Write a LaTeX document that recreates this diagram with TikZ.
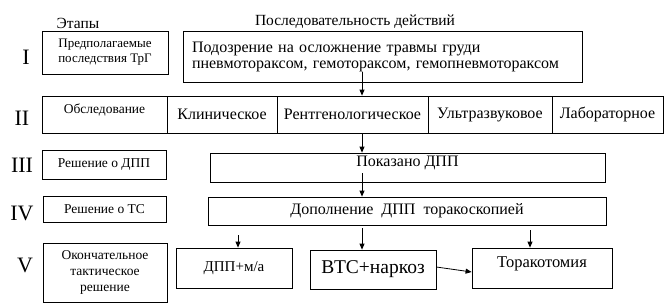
\documentclass[tikz,border=0pt]{standalone}
\usepackage{fontspec}
\setmainfont{Liberation Serif}
\newfontfamily\trfont{Liberation Serif}
\usepackage{tikz}
\usetikzlibrary{arrows.meta, positioning, calc}

\begin{document}
\begin{tikzpicture}[
  x=1pt, y=-1pt,
  box/.style={draw, line width=0.8pt, inner sep=0pt, align=center,
              minimum width=#1},
  stage/.style={box=#1, font=\trfont\fontsize{13.5}{16}\selectfont},
  act/.style={box=#1, font=\trfont\fontsize{16}{16}\selectfont},
  roman/.style={font=\trfont\fontsize{22}{22}\selectfont},
  head/.style={font=\trfont\fontsize{15.5}{15.5}\selectfont},
  raised/.style={text depth=12pt},
  arr/.style={-{Triangle[length=6pt, width=5pt]}, line width=0.8pt}
]
\useasboundingbox (0,0) rectangle (671,306);

%% Headers
\node[head] (hst)  at (78,23)  {Этапы};
\node[head] (hseq) at (355,22) {Последовательность действий};

%% Stage numbers
\node[roman] (r1) at (26,57)  {I};
\node[roman] (r2) at (22,118) {II};
\node[roman] (r3) at (22,165) {III};
\node[roman] (r4) at (22,213) {IV};
\node[roman] (r5) at (25,265) {V};

%% Stages
\node[stage=126pt, minimum height=43pt, font=\trfont\fontsize{13}{15}\selectfont] (st1) at (105,52.5)
  {Предполагаемые\\последствия ТрГ};
\node[stage=125pt, minimum height=37pt, raised] (st2) at (104.5,114.5) {Обследование};
\node[stage=124pt, minimum height=29pt] (st3) at (104,164.5) {Решение о ДПП};
\node[stage=123pt, minimum height=26pt] (st4) at (104.5,209) {Решение о ТС};
\node[stage=124pt, minimum height=59pt] (st5) at (105,272.5)
  {Окончательное\\тактическое\\решение};

%% Actions
\node[act=399pt, minimum height=51pt, align=left, text width=381pt] (susp) at (382.5,56.5)
  {Подозрение на осложнение травмы груди\\пневмотораксом, гемотораксом, гемопневмотораксом};
\node[act=110pt, minimum height=37pt] (clin) at (222,114.5)   {Клиническое};
\node[act=151pt, minimum height=37pt] (xray) at (352.5,114.5) {Рентгенологическое};
\node[act=124pt, minimum height=37pt] (echo) at (490,114.5)   {Ультразвуковое};
\node[act=111pt, minimum height=37pt] (lab)  at (607.5,114.5) {Лабораторное};
\node[act=395pt, minimum height=29pt, raised] (indic) at (407.5,167.5) {Показано ДПП};
\node[act=398pt, minimum height=28pt] (suppl) at (407,211)
  {Дополнение\ \ ДПП\ \ торакоскопией};
\node[act=116pt, minimum height=40pt, font=\trfont\fontsize{15}{15}\selectfont] (dpp) at (234,268)
  {ДПП+м/а};
\node[act=126pt, minimum height=39pt, font=\trfont\fontsize{19.5}{20}\selectfont] (vts) at (373,269.5)
  {ВТС+наркоз};
\node[act=140pt, minimum height=40pt, raised, font=\trfont\fontsize{16.5}{17}\selectfont] (thor) at (542,268)
  {Торакотомия};

%% Arrow starts
\coordinate (a1) at (362,72);
\coordinate (a2) at (362,173);
\coordinate (a3) at (238,235);
\coordinate (a4) at (362,228);
\coordinate (a5) at (530,230);

%% Connectors
\draw[arr] (a1) -- (a1 |- xray.north);
\draw[arr] (xray.south -| a1) -- (a1 |- indic.north);
\draw[arr] (a2) -- (a2 |- suppl.north);
\draw[arr] (a3) -- (a3 |- dpp.north);
\draw[arr] (a4) -- (a4 |- vts.north);
\draw[arr] (a5) -- (a5 |- thor.north);
\draw[arr] ([yshift=2.5pt]vts.east) -- ([yshift=-4pt]thor.west);

\end{tikzpicture}
\end{document}
